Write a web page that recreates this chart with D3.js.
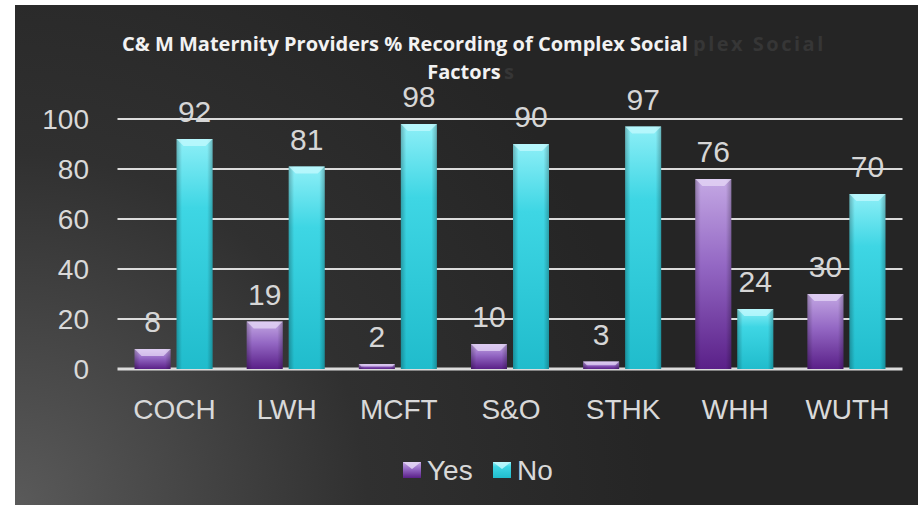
<!DOCTYPE html>
<html>
<head>
<meta charset="utf-8">
<script src="https://cdn.jsdelivr.net/npm/d3@7"></script>
<style>
  html, body { margin: 0; padding: 0; background: #fff; }
  svg { display: block; }
</style>
</head>
<body>
<div id="chart"></div>
<script>
// chart data
var categories = ["COCH", "LWH", "MCFT", "S&O", "STHK", "WHH", "WUTH"];
var yesValues = [8, 19, 2, 10, 3, 76, 30];
var noValues = [92, 81, 98, 90, 97, 24, 70];
var seriesNames = ["Yes", "No"];
var yTicks = [0, 20, 40, 60, 80, 100];
var titleLines = ["C& M Maternity Providers % Recording of Complex Social", "Factors"];

function init() {
  var w = 918, h = 505;

  var svg = d3.select("#chart")
    .append("svg")
    .attr("width", w)
    .attr("height", h);

  var defs = svg.append("defs");

  // background gradient, lighter at bottom left
  var bg = defs.append("radialGradient")
    .attr("id", "bgGrad")
    .attr("gradientUnits", "userSpaceOnUse")
    .attr("cx", 15).attr("cy", 505).attr("r", 640);
  bg.append("stop").attr("offset", "0%").attr("stop-color", "#5a5a5a");
  bg.append("stop").attr("offset", "55%").attr("stop-color", "#303030");
  bg.append("stop").attr("offset", "100%").attr("stop-color", "#252525");

  var purple = defs.append("linearGradient")
    .attr("id", "purpleGrad").attr("x1", 0).attr("y1", 0).attr("x2", 0).attr("y2", 1);
  purple.append("stop").attr("offset", "0%").attr("stop-color", "#c4a8e4");
  purple.append("stop").attr("offset", "45%").attr("stop-color", "#9468c4");
  purple.append("stop").attr("offset", "100%").attr("stop-color", "#5a2088");

  var cyan = defs.append("linearGradient")
    .attr("id", "cyanGrad").attr("x1", 0).attr("y1", 0).attr("x2", 0).attr("y2", 1);
  cyan.append("stop").attr("offset", "0%").attr("stop-color", "#8eeff7");
  cyan.append("stop").attr("offset", "30%").attr("stop-color", "#3ed6e4");
  cyan.append("stop").attr("offset", "100%").attr("stop-color", "#20bccc");

  // darker side edges on each bar
  var edge = defs.append("linearGradient")
    .attr("id", "edgeGrad").attr("x1", 0).attr("y1", 0).attr("x2", 1).attr("y2", 0);
  edge.append("stop").attr("offset", "0%").attr("stop-color", "#000").attr("stop-opacity", 0.25);
  edge.append("stop").attr("offset", "15%").attr("stop-color", "#000").attr("stop-opacity", 0);
  edge.append("stop").attr("offset", "85%").attr("stop-color", "#000").attr("stop-opacity", 0);
  edge.append("stop").attr("offset", "100%").attr("stop-color", "#000").attr("stop-opacity", 0.25);

  svg.append("rect")
    .attr("x", 15).attr("y", 5)
    .attr("width", w - 15).attr("height", h - 5)
    .attr("fill", "url(#bgGrad)");

  // scales
  var x0 = d3.scaleBand()
    .domain(categories)
    .range([117.5, 902.5]);

  var x1 = d3.scaleBand()
    .domain(seriesNames)
    .range([0, 78])
    .paddingInner(6 / 42);

  var y = d3.scaleLinear()
    .domain([0, 100])
    .range([369, 119]);

  var fills = { Yes: "url(#purpleGrad)", No: "url(#cyanGrad)" };
  var bevels = { Yes: "#e8dcf8", No: "#c8fbff" };

  // gridlines
  svg.append("g")
    .selectAll("line")
    .data(yTicks)
    .enter()
    .append("line")
    .attr("x1", x0.range()[0])
    .attr("x2", x0.range()[1])
    .attr("y1", function(d) { return y(d); })
    .attr("y2", function(d) { return y(d); })
    .attr("stroke", "#dcdcdc")
    .attr("stroke-width", function(d) { return d === 0 ? 3 : 2; });

  // y tick labels
  svg.append("g")
    .selectAll("text")
    .data(yTicks)
    .enter()
    .append("text")
    .attr("x", 89)
    .attr("y", function(d) { return y(d) + 10; })
    .attr("text-anchor", "end")
    .attr("font-family", "Liberation Sans, Arial, sans-serif")
    .attr("font-size", 28)
    .attr("fill", "#d9d9d9")
    .text(function(d) { return d; });

  // bar data per category
  var rows = categories.map(function(c, i) {
    return { cat: c, values: [
      { key: "Yes", value: yesValues[i] },
      { key: "No", value: noValues[i] }
    ] };
  });

  var groups = svg.append("g")
    .selectAll("g")
    .data(rows)
    .enter()
    .append("g")
    .attr("transform", function(d) {
      var c = x0(d.cat) + x0.bandwidth() / 2 - 39;
      return "translate(" + c + ",0)";
    });

  var bars = groups.selectAll("g")
    .data(function(d) { return d.values; })
    .enter()
    .append("g");

  bars.append("rect")
    .attr("x", function(d) { return x1(d.key); })
    .attr("y", function(d) { return y(d.value); })
    .attr("width", x1.bandwidth())
    .attr("height", function(d) { return y(0) - y(d.value); })
    .attr("fill", function(d) { return fills[d.key]; });

  bars.append("rect")
    .attr("x", function(d) { return x1(d.key); })
    .attr("y", function(d) { return y(d.value); })
    .attr("width", x1.bandwidth())
    .attr("height", function(d) { return y(0) - y(d.value); })
    .attr("fill", "url(#edgeGrad)");

  // top bevel highlight
  bars.append("polygon")
    .attr("points", function(d) {
      var bx = x1(d.key), bw = x1.bandwidth();
      var top = y(d.value);
      var b = Math.min(7, (y(0) - top) / 2);
      return [
        [bx, top], [bx + bw, top],
        [bx + bw - b, top + b], [bx + b, top + b]
      ].join(" ");
    })
    .attr("fill", function(d) { return bevels[d.key]; })
    .attr("opacity", 0.7);

  // data labels
  bars.append("text")
    .attr("x", function(d) { return x1(d.key) + x1.bandwidth() / 2; })
    .attr("y", function(d) { return y(d.value) - 17; })
    .attr("text-anchor", "middle")
    .attr("font-family", "Liberation Sans, Arial, sans-serif")
    .attr("font-size", 30)
    .attr("fill", "#d6d6d6")
    .text(function(d) { return d.value; });

  // x labels
  svg.append("g")
    .selectAll("text")
    .data(categories)
    .enter()
    .append("text")
    .attr("x", function(d) { return x0(d) + x0.bandwidth() / 2 + 1; })
    .attr("y", 419)
    .attr("text-anchor", "middle")
    .attr("font-family", "Liberation Sans, Arial, sans-serif")
    .attr("font-size", 28)
    .attr("fill", "#d9d9d9")
    .text(function(d) { return d; });

  // title, with the faint ghost copy behind it
  var titleFont = "Open Sans, sans-serif";
  svg.append("text")
    .attr("x", 693).attr("y", 51)
    .attr("font-family", titleFont)
    .attr("font-weight", "bold")
    .attr("font-size", 20)
    .attr("letter-spacing", 2.5)
    .attr("fill", "#363636")
    .text("plex Social");
  svg.append("text")
    .attr("x", 504).attr("y", 79)
    .attr("font-family", titleFont)
    .attr("font-weight", "bold")
    .attr("font-size", 20)
    .attr("fill", "#363636")
    .text("s");

  svg.append("text")
    .attr("x", 405).attr("y", 51)
    .attr("text-anchor", "middle")
    .attr("font-family", titleFont)
    .attr("font-weight", "bold")
    .attr("font-size", 20)
    .attr("fill", "#f2f2f2")
    .text(titleLines[0]);
  svg.append("text")
    .attr("x", 464).attr("y", 79)
    .attr("text-anchor", "middle")
    .attr("font-family", titleFont)
    .attr("font-weight", "bold")
    .attr("font-size", 20)
    .attr("fill", "#f2f2f2")
    .text(titleLines[1]);

  // legend
  var legendX = [403, 493];
  var legend = svg.append("g")
    .selectAll("g")
    .data(seriesNames)
    .enter()
    .append("g")
    .attr("transform", function(d, i) { return "translate(" + legendX[i] + ",462)"; });

  legend.append("rect")
    .attr("width", 18)
    .attr("height", 16)
    .attr("fill", function(d) { return fills[d]; });
  legend.append("polygon")
    .attr("points", "0,0 18,0 9,7")
    .attr("fill", function(d) { return bevels[d]; })
    .attr("opacity", 0.8);

  legend.append("text")
    .attr("x", 24)
    .attr("y", 18)
    .attr("font-family", "Liberation Sans, Arial, sans-serif")
    .attr("font-size", 28)
    .attr("fill", "#d9d9d9")
    .text(function(d) { return d; });
}
window.onload = init;
</script>
</body>
</html>
